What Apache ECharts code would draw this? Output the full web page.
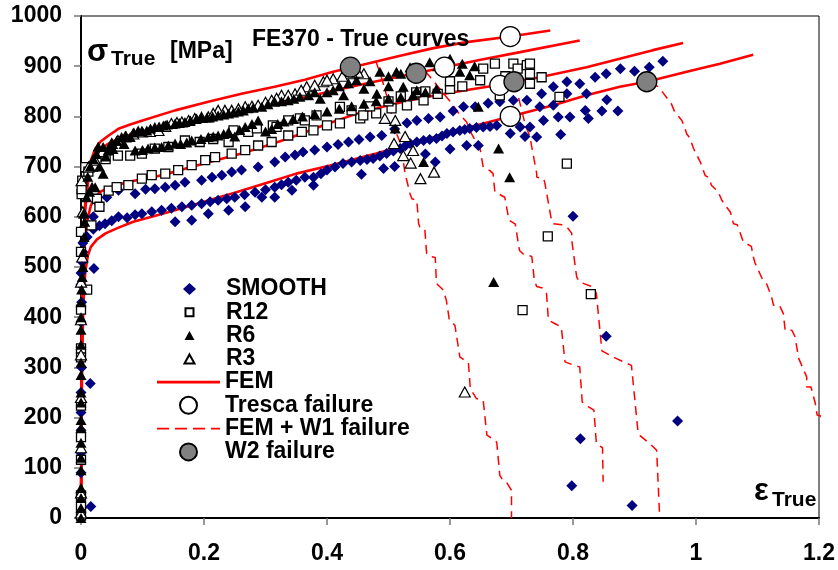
<!DOCTYPE html>
<html>
<head>
<meta charset="utf-8">
<script src="https://cdn.jsdelivr.net/npm/echarts@6/dist/echarts.min.js"></script>
<style>
  html, body { margin: 0; padding: 0; background: #fff; }
  #chart { width: 838px; height: 570px; }
</style>
</head>
<body>
<div id="chart"></div>
<script>
// measured points, [true strain, true stress MPa]
let smooth = [
  [0.001, 20], [0, 50], [0, 90], [0, 130], [0, 175], [0, 210], [0, 250], [0.001, 300], [0, 340], [0, 390],
  [0.001, 430], [0, 465], [0, 488], [0.002, 510], [0.003, 530], [0.003, 548], [0.005, 565],
  [0.016, 23], [0.015, 268], [0.021, 497],
  [0.01, 560], [0.02, 575], [0.03, 582], [0.039, 586], [0.05, 592], [0.061, 600], [0.075, 598], [0.088, 604],
  [0.099, 606], [0.115, 610], [0.131, 613], [0.147, 617], [0.164, 620], [0.18, 623], [0.196, 626], [0.21, 630],
  [0.223, 633], [0.237, 636], [0.25, 639], [0.266, 644], [0.283, 649], [0.3, 654], [0.315, 659], [0.326, 664],
  [0.337, 669], [0.35, 673], [0.364, 679], [0.378, 679], [0.39, 686], [0.4, 693], [0.413, 699], [0.426, 706],
  [0.44, 709], [0.454, 712], [0.465, 714], [0.475, 716], [0.486, 721], [0.497, 726], [0.508, 731], [0.519, 736],
  [0.527, 741], [0.535, 746], [0.546, 749], [0.557, 752], [0.567, 754], [0.578, 756], [0.587, 761], [0.595, 766],
  [0.605, 769], [0.616, 772], [0.624, 774], [0.632, 776], [0.643, 778], [0.654, 779], [0.665, 780], [0.676, 782],
  [0.698, 766], [0.714, 779], [0.722, 760], [0.73, 779], [0.741, 759], [0.752, 792], [0.78, 764],
  [0.153, 590], [0.18, 593], [0.207, 606], [0.24, 613], [0.267, 620], [0.294, 639], [0.315, 639], [0.343, 653],
  [0.378, 663], [0.456, 685], [0.492, 696], [0.51, 700], [0.576, 709], [0.627, 742], [0.646, 742], [0.6, 735], [0.56, 725],
  [0.02, 600], [0.03, 625], [0.042, 639], [0.061, 653], [0.088, 646], [0.105, 655], [0.12, 656], [0.137, 659],
  [0.153, 663], [0.169, 669], [0.196, 673], [0.213, 679], [0.229, 683], [0.245, 689], [0.261, 693], [0.288, 699],
  [0.315, 709], [0.332, 719], [0.348, 723], [0.361, 729], [0.38, 733], [0.4, 739], [0.418, 744], [0.435, 749],
  [0.452, 754], [0.47, 759], [0.489, 762], [0.51, 775], [0.53, 787], [0.546, 792], [0.565, 796], [0.584, 799],
  [0.605, 811], [0.622, 819], [0.641, 819], [0.662, 826], [0.681, 829], [0.703, 832], [0.725, 832], [0.746, 819],
  [0.768, 822], [0.749, 845], [0.768, 859], [0.79, 845], [0.79, 869], [0.811, 865], [0.822, 845], [0.836, 878],
  [0.854, 885], [0.855, 833], [0.877, 895], [0.9, 890], [0.924, 898], [0.946, 910], [0.776, 799], [0.795, 799],
  [0.82, 812], [0.825, 796], [0.847, 811], [0.873, 811],
  [0.8, 601], [0.854, 362], [0.812, 158], [0.798, 64], [0.896, 25], [0.97, 193]
];
let r12 = [
  [0, 5], [0, 25], [0, 45], [0, 116], [0, 161], [0, 224], [0, 320], [0, 338], [0, 415], [0.01, 455], [0, 530], [0, 570],
  [0.017, 583], [0.001, 645], [0.001, 655], [0.002, 672], [0.007, 699], [0.012, 690], [0.026, 636], [0.03, 620],
  [0.045, 652], [0.058, 659], [0.077, 663], [0.099, 676], [0.115, 683], [0.137, 686], [0.158, 693], [0.18, 703],
  [0.202, 713], [0.218, 719], [0.245, 726], [0.267, 733], [0.288, 742], [0.31, 749], [0.337, 762], [0.359, 769],
  [0.378, 772], [0.4, 782], [0.421, 786], [0.454, 796], [0.48, 806], [0.505, 816], [0.53, 822], [0.557, 832],
  [0.58, 845], [0.6, 855],
  [0.02, 700], [0.04, 715], [0.06, 722], [0.08, 722], [0.099, 726], [0.12, 736], [0.142, 739], [0.169, 752],
  [0.193, 749], [0.215, 755], [0.24, 749], [0.248, 772], [0.272, 769], [0.286, 776], [0.312, 782], [0.318, 779],
  [0.337, 792], [0.356, 796], [0.364, 792], [0.383, 802], [0.421, 819], [0.44, 812], [0.459, 802], [0.47, 820],
  [0.5, 830], [0.52, 840], [0.545, 848], [0.56, 850], [0.6, 870], [0.62, 860], [0.649, 872], [0.654, 895],
  [0.673, 905], [0.681, 842], [0.69, 880], [0.703, 905], [0.71, 895], [0.725, 902], [0.73, 905], [0.73, 885],
  [0.73, 865], [0.749, 878], [0.778, 839],
  [0.79, 706], [0.759, 561], [0.829, 446], [0.718, 414]
];
let r6 = [
  [0, 0], [0, 20], [0, 40], [0, 60], [0, 95], [0, 120], [0, 150], [0, 180], [0, 195], [0, 230], [0, 250], [0, 285],
  [0, 310], [0, 345], [0, 375], [0, 400], [0, 430], [0.001, 455], [0.002, 480], [0.003, 500], [0.004, 530],
  [0.005, 560], [0.006, 590], [0.004, 606], [0.009, 639], [0.018, 660], [0.023, 659],
  [0.011, 680], [0.014, 650], [0.015, 700], [0.02, 715], [0.025, 725], [0.03, 700], [0.028, 740], [0.04, 720],
  [0.052, 735], [0.07, 745],
  [0.036, 686], [0.036, 739], [0.044, 732], [0.058, 752], [0.066, 759], [0.08, 759], [0.093, 772], [0.107, 772],
  [0.12, 779], [0.134, 782], [0.153, 786], [0.169, 789], [0.188, 796], [0.205, 798], [0.223, 802], [0.24, 806],
  [0.256, 810], [0.272, 816], [0.294, 819], [0.315, 829], [0.337, 832], [0.356, 839], [0.389, 835], [0.4, 848],
  [0.427, 842], [0.448, 872], [0.46, 855], [0.481, 845], [0.486, 889], [0.5, 860], [0.513, 889], [0.524, 859],
  [0.535, 898], [0.546, 852], [0.567, 908], [0.578, 855], [0.6, 915], [0.616, 889], [0.632, 882],
  [0.05, 745], [0.073, 762], [0.086, 768], [0.1, 770], [0.113, 776], [0.127, 780], [0.14, 784], [0.16, 787],
  [0.178, 792], [0.196, 797], [0.214, 800], [0.232, 804], [0.248, 808], [0.264, 812], [0.28, 817], [0.304, 824],
  [0.326, 830], [0.346, 835], [0.37, 842], [0.38, 848], [0.41, 852], [0.42, 860], [0.435, 866], [0.47, 870],
  [0.5, 880], [0.52, 885], [0.55, 895], [0.58, 900], [0.59, 905], [0.62, 905], [0.64, 900],
  [0.088, 732], [0.109, 736], [0.131, 739], [0.153, 746], [0.172, 748], [0.207, 759], [0.223, 762], [0.24, 769],
  [0.25, 760], [0.267, 779], [0.288, 792], [0.3, 770], [0.33, 790], [0.36, 800], [0.4, 810], [0.44, 820],
  [0.48, 830], [0.52, 838],
  [0.1, 733], [0.12, 738], [0.142, 742], [0.162, 745], [0.18, 752], [0.195, 755], [0.215, 760], [0.232, 765],
  [0.258, 773], [0.278, 785], [0.31, 775], [0.32, 785], [0.345, 795], [0.38, 805], [0.42, 815], [0.46, 825],
  [0.5, 835], [0.54, 842], [0.56, 848],
  [0.511, 776], [0.557, 709], [0.646, 819], [0.679, 736], [0.697, 679], [0.671, 470]
];
let r3 = [
  [0, 10], [0, 50], [0, 140], [0, 240], [0, 325], [0, 395], [0, 470], [0.002, 520], [0.003, 610], [0.001, 672],
  [0.012, 699], [0.023, 713], [0.035, 730], [0.05, 746], [0.072, 759], [0.099, 769], [0.126, 772], [0.147, 786],
  [0.164, 789], [0.185, 796], [0.207, 799], [0.223, 812], [0.245, 812], [0.267, 819], [0.288, 822], [0.31, 832],
  [0.326, 842], [0.348, 845], [0.367, 859], [0.394, 869], [0.41, 875], [0.437, 885], [0.46, 885],
  [0.06, 752], [0.085, 765], [0.112, 770], [0.137, 780], [0.156, 788], [0.175, 792], [0.196, 798], [0.215, 806],
  [0.234, 812], [0.256, 815], [0.278, 820], [0.3, 828], [0.318, 836], [0.337, 842], [0.358, 852], [0.38, 862],
  [0.4, 872], [0.425, 880], [0.45, 888],
  [0.494, 796], [0.511, 792], [0.509, 746], [0.527, 760], [0.54, 732], [0.524, 722], [0.536, 707], [0.552, 676],
  [0.574, 689], [0.624, 251]
];

// FEM true curves
let fem1 = [
  [0, 0], [0.001, 250], [0.002, 450], [0.004, 560], [0.007, 630], [0.011, 680], [0.016, 712], [0.023, 735],
  [0.032, 750], [0.045, 762], [0.062, 776], [0.08, 784], [0.1, 792], [0.153, 812], [0.207, 829], [0.261, 845],
  [0.315, 859], [0.364, 873], [0.41, 889], [0.465, 905], [0.519, 921], [0.573, 936], [0.627, 948], [0.698, 959],
  [0.763, 971]
];
let fem2 = [
  [0, 0], [0.001, 250], [0.002, 430], [0.004, 540], [0.007, 615], [0.011, 665], [0.016, 700], [0.023, 722],
  [0.032, 736], [0.045, 746], [0.065, 758], [0.1, 770], [0.15, 784], [0.2, 797], [0.25, 810], [0.3, 822],
  [0.356, 836], [0.4, 848], [0.45, 862], [0.5, 875], [0.545, 886], [0.591, 898], [0.65, 913], [0.714, 928],
  [0.811, 951]
];
let fem3 = [
  [0, 0], [0.001, 250], [0.002, 400], [0.004, 500], [0.007, 560], [0.011, 598], [0.016, 622], [0.023, 640],
  [0.032, 650], [0.045, 658], [0.077, 670], [0.115, 678], [0.153, 690], [0.2, 706], [0.261, 726], [0.3, 741],
  [0.337, 756], [0.4, 785], [0.45, 806], [0.5, 822], [0.55, 836], [0.6, 847], [0.681, 863], [0.746, 878],
  [0.822, 898], [0.876, 915], [0.93, 932], [0.979, 946]
];
let fem4 = [
  [0, 0], [0.001, 200], [0.002, 330], [0.004, 430], [0.007, 490], [0.011, 522], [0.016, 540], [0.026, 555],
  [0.04, 567], [0.06, 578], [0.085, 590], [0.115, 600], [0.15, 612], [0.2, 630], [0.25, 648], [0.3, 667],
  [0.35, 686], [0.405, 702], [0.48, 726], [0.55, 750], [0.62, 775], [0.698, 800], [0.768, 822], [0.822, 842],
  [0.876, 859], [0.92, 869], [0.985, 889], [1.039, 905], [1.093, 923]
];

// FEM with W1 damage, softening branches
let w1a = [
  [0.48, 908], [0.488, 880], [0.495, 850], [0.5, 829], [0.506, 800], [0.511, 772], [0.52, 745], [0.527, 686],
  [0.535, 646], [0.538, 636], [0.546, 633], [0.549, 586], [0.551, 580], [0.559, 576], [0.562, 527], [0.567, 521],
  [0.576, 519], [0.578, 467], [0.584, 460], [0.589, 454], [0.594, 434], [0.599, 394], [0.608, 384], [0.616, 321],
  [0.619, 318], [0.63, 309], [0.633, 258], [0.643, 238], [0.654, 234], [0.66, 165], [0.665, 161], [0.676, 151],
  [0.681, 85], [0.686, 75], [0.692, 71], [0.7, 55], [0.7, 0]
];
let w1b = [
  [0.56, 890], [0.58, 860], [0.6, 830], [0.615, 805], [0.627, 789], [0.632, 772], [0.649, 735], [0.654, 699],
  [0.665, 692], [0.67, 686], [0.673, 649], [0.68, 645], [0.689, 639], [0.696, 593], [0.706, 586], [0.713, 533],
  [0.719, 526], [0.733, 521], [0.736, 487], [0.737, 474], [0.741, 461], [0.75, 458], [0.757, 447], [0.76, 394],
  [0.771, 387], [0.781, 380], [0.787, 311], [0.8, 305], [0.811, 301], [0.815, 231], [0.826, 221], [0.834, 215],
  [0.838, 148], [0.848, 140], [0.849, 72]
];
let w1c = [
  [0.706, 866], [0.713, 830], [0.722, 785], [0.73, 759], [0.733, 739], [0.741, 686], [0.741, 679], [0.752, 676],
  [0.754, 669], [0.765, 593], [0.768, 586], [0.782, 584], [0.79, 580], [0.798, 567], [0.798, 553], [0.806, 480],
  [0.811, 470], [0.833, 460], [0.838, 447], [0.847, 333], [0.87, 318], [0.895, 304], [0.906, 168], [0.909, 164],
  [0.925, 148], [0.936, 135], [0.941, 0]
];
let w1d = [
  [0.925, 866], [0.939, 859], [0.96, 825], [0.965, 810], [0.977, 792], [0.982, 776], [0.985, 765], [0.99, 757],
  [0.996, 736], [1.007, 709], [1.015, 682], [1.021, 678], [1.025, 663], [1.036, 650], [1.042, 633], [1.05, 619],
  [1.056, 609], [1.061, 586], [1.067, 584], [1.072, 567], [1.077, 550], [1.09, 541], [1.093, 521], [1.096, 508],
  [1.109, 473], [1.115, 466], [1.123, 440], [1.126, 424], [1.136, 423], [1.142, 407], [1.145, 374], [1.156, 374],
  [1.161, 361], [1.167, 318], [1.18, 281], [1.18, 261], [1.187, 261], [1.194, 228], [1.197, 205], [1.203, 203],
  [1.206, 188], [1.206, 148], [1.213, 145], [1.214, 82], [1.219, 72]
];

// failure points
let tresca = [[0.698, 959], [0.591, 898], [0.681, 862], [0.698, 800]];
let w2 = [[0.438, 898], [0.545, 886], [0.704, 869], [0.92, 869]];

let font = "Liberation Sans";

// legend icons drawn in a full 63px wide box (outer moveTo points fix the box)
let iconDiamond = "path://M0,0M25,6L31.5,0L38,6L31.5,12ZM63,12";
let iconSquare = "path://M0,0M27.5,2L35.5,2L35.5,10L27.5,10ZM63,12";
let iconTriangle = "path://M0,0M31.5,1.5L36.5,10.5L26.5,10.5ZM63,12";
let iconLine = "path://M0,0M0,7.3L63,7.3L63,10L0,10ZM63,17";
let iconDash = "path://M0,0M0,7.6L12,7.6L12,9.4L0,9.4ZM18,7.6L30,7.6L30,9.4L18,9.4ZM36,7.6L48,7.6L48,9.4L36,9.4ZM54,7.6L63,7.6L63,9.4L54,9.4ZM63,17";

function scatter(name, data, symbol, size, style, z) {
  return {
    name: name, type: "scatter", data: data, symbol: symbol, symbolSize: size,
    itemStyle: Object.assign({ opacity: 1 }, style), z: z
  };
}

function femLine(name, data, dashed, clip) {
  return {
    name: name,
    type: "line",
    data: data,
    symbol: "none",
    showSymbol: false,
    clip: clip,
    z: 1,
    lineStyle: dashed ? { color: "#ff0000", width: 1.5, type: [9, 6] } : { color: "#ff0000", width: 2.6 },
    itemStyle: { color: "#ff0000", borderWidth: 0 }
  };
}

let legendText = { fontFamily: font, fontSize: 23, fontWeight: "bold", color: "#000", lineHeight: 23 };

let option = {
  animation: false,
  backgroundColor: "#fff",
  title: [
    { text: "FE370 - True curves", left: 247, top: 23, textStyle: { fontFamily: font, fontSize: 23, fontWeight: "bold", color: "#000" } },
    { text: "σ", left: 82, top: 32, textStyle: { fontFamily: font, fontSize: 31, fontWeight: "bold", color: "#000" } },
    { text: "True", left: 106, top: 44, textStyle: { fontFamily: font, fontSize: 21, fontWeight: "bold", color: "#000" } },
    { text: "[MPa]", left: 165, top: 35, textStyle: { fontFamily: font, fontSize: 23, fontWeight: "bold", color: "#000" } },
    { text: "ε", left: 749, top: 471, textStyle: { fontFamily: font, fontSize: 31, color: "#000" } },
    { text: "True", left: 767, top: 485, textStyle: { fontFamily: font, fontSize: 21, fontWeight: "bold", color: "#000" } }
  ],
  legend: [
    {
      data: [
        { name: "SMOOTH", icon: iconDiamond },
        { name: "R12", icon: iconSquare },
        { name: "R6", icon: iconTriangle },
        { name: "R3", icon: iconTriangle }
      ],
      orient: "vertical", left: 157, top: 277.5, padding: 0,
      itemWidth: 63, itemHeight: 12, itemGap: 0.3, symbolKeepAspect: true,
      selectedMode: false, textStyle: legendText
    },
    {
      data: [
        { name: "FEM", icon: iconLine },
        { name: "Tresca failure", icon: "circle" },
        { name: "FEM + W1 failure", icon: iconDash },
        { name: "W2 failure", icon: "circle" }
      ],
      orient: "vertical", left: 157, top: 370.5, padding: 0,
      itemWidth: 63, itemHeight: 17, itemGap: 0.3, symbolKeepAspect: true,
      selectedMode: false, textStyle: legendText
    }
  ],
  grid: { left: 81, top: 16, width: 738, height: 502, show: true, borderColor: "#000", borderWidth: 1 },
  xAxis: {
    type: "value", min: 0, max: 1.2, interval: 0.2,
    axisLine: { show: true, onZero: false, lineStyle: { color: "#000", width: 2 } },
    axisTick: { show: true, length: 7, lineStyle: { color: "#777", width: 1.5 } },
    axisLabel: { margin: 24, fontFamily: font, fontSize: 23, fontWeight: "bold", color: "#000" },
    splitLine: { show: false }
  },
  yAxis: {
    type: "value", min: 0, max: 1000, interval: 100,
    axisLine: { show: true, onZero: false, lineStyle: { color: "#000", width: 2 } },
    axisTick: { show: true, length: 7, lineStyle: { color: "#777", width: 1.5 } },
    axisLabel: {
      margin: 19, fontFamily: font, fontSize: 23, fontWeight: "bold", color: "#000",
      formatter: function (v) { return String(v); }
    },
    splitLine: { show: false }
  },
  series: [
    scatter("SMOOTH", smooth, "diamond", 11, { color: "#000080" }, 2),
    scatter("R12", r12, "rect", 9, { color: "#fff", borderColor: "#000", borderWidth: 1.3 }, 2),
    scatter("R3", r3, "triangle", [11, 10], { color: "#fff", borderColor: "#000", borderWidth: 1.2 }, 2),
    scatter("R6", r6, "triangle", [11, 10], { color: "#000" }, 2),
    femLine("FEM", fem1, false, true),
    femLine("FEM", fem2, false, true),
    femLine("FEM", fem3, false, true),
    femLine("FEM", fem4, false, true),
    femLine("FEM + W1 failure", w1a, true, true),
    femLine("FEM + W1 failure", w1b, true, true),
    femLine("FEM + W1 failure", w1c, true, true),
    femLine("FEM + W1 failure", w1d, true, false),
    scatter("Tresca failure", tresca, "circle", 20, { color: "#fff", borderColor: "#000", borderWidth: 1.3 }, 5),
    scatter("W2 failure", w2, "circle", 20, { color: "#808080", borderColor: "#000", borderWidth: 1.3 }, 5)
  ]
};

let chart = echarts.init(document.getElementById("chart"));
chart.setOption(option);
</script>
</body>
</html>
